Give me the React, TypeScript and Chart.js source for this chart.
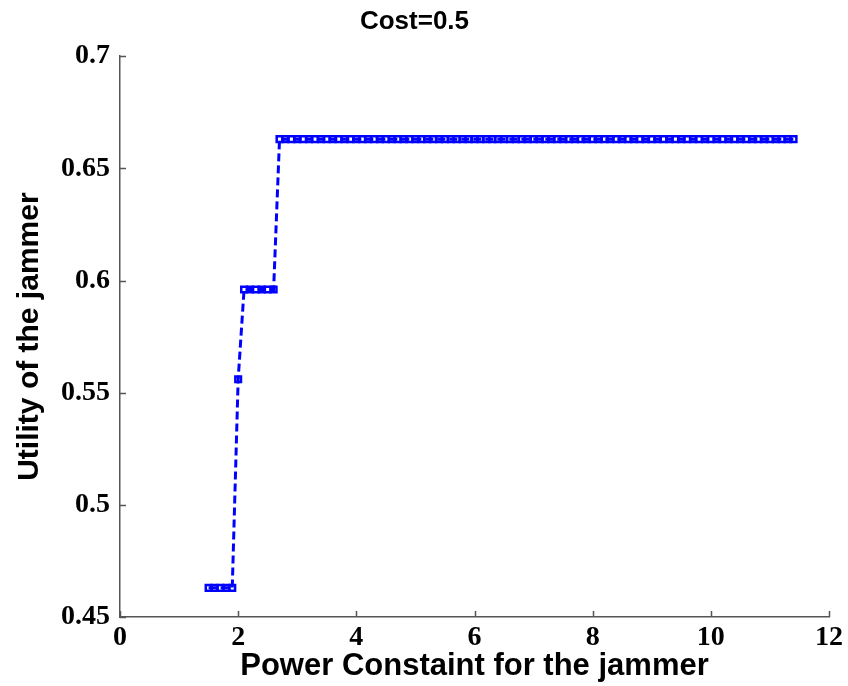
import React, { useEffect, useRef } from 'react';
import { Chart, registerables } from 'chart.js';

Chart.register(...registerables);

const titleText = 'Cost=0.5';
const xTitle = 'Power Constaint for the jammer';
const yTitle = 'Utility of the jammer';

const xValues = [
  1.5, 1.6, 1.7, 1.8, 1.9,
  2.0,
  2.1, 2.2, 2.3, 2.4, 2.5, 2.6,
  2.7, 2.8, 2.9, 3.0, 3.1, 3.2, 3.3, 3.4, 3.5, 3.6, 3.7, 3.8, 3.9,
  4.0, 4.1, 4.2, 4.3, 4.4, 4.5, 4.6, 4.7, 4.8, 4.9,
  5.0, 5.1, 5.2, 5.3, 5.4, 5.5, 5.6, 5.7, 5.8, 5.9,
  6.0, 6.1, 6.2, 6.3, 6.4, 6.5, 6.6, 6.7, 6.8, 6.9,
  7.0, 7.1, 7.2, 7.3, 7.4, 7.5, 7.6, 7.7, 7.8, 7.9,
  8.0, 8.1, 8.2, 8.3, 8.4, 8.5, 8.6, 8.7, 8.8, 8.9,
  9.0, 9.1, 9.2, 9.3, 9.4, 9.5, 9.6, 9.7, 9.8, 9.9,
  10.0, 10.1, 10.2, 10.3, 10.4, 10.5, 10.6, 10.7, 10.8, 10.9,
  11.0, 11.1, 11.2, 11.3, 11.4,
];

const yValues = [
  0.463, 0.463, 0.463, 0.463, 0.463,
  0.556,
  0.596, 0.596, 0.596, 0.596, 0.596, 0.596,
  0.663, 0.663, 0.663, 0.663, 0.663, 0.663, 0.663, 0.663, 0.663, 0.663, 0.663, 0.663, 0.663,
  0.663, 0.663, 0.663, 0.663, 0.663, 0.663, 0.663, 0.663, 0.663, 0.663,
  0.663, 0.663, 0.663, 0.663, 0.663, 0.663, 0.663, 0.663, 0.663, 0.663,
  0.663, 0.663, 0.663, 0.663, 0.663, 0.663, 0.663, 0.663, 0.663, 0.663,
  0.663, 0.663, 0.663, 0.663, 0.663, 0.663, 0.663, 0.663, 0.663, 0.663,
  0.663, 0.663, 0.663, 0.663, 0.663, 0.663, 0.663, 0.663, 0.663, 0.663,
  0.663, 0.663, 0.663, 0.663, 0.663, 0.663, 0.663, 0.663, 0.663, 0.663,
  0.663, 0.663, 0.663, 0.663, 0.663, 0.663, 0.663, 0.663, 0.663, 0.663,
  0.663, 0.663, 0.663, 0.663, 0.663,
];

const xTickValues = [0, 2, 4, 6, 8, 10, 12];
const xTickLabels = ['0', '2', '4', '6', '8', '10', '12'];
const yTickValues = [0.45, 0.5, 0.55, 0.6, 0.65, 0.7];
const yTickLabels = ['0.45', '0.5', '0.55', '0.6', '0.65', '0.7'];

const AXIS_COLOR = '#555555';
const LINE_COLOR = '#0000ff';

const innerTicks = {
  id: 'innerTicks',
  afterDraw(chart: any) {
    const { ctx, chartArea, scales } = chart;
    ctx.save();
    ctx.strokeStyle = AXIS_COLOR;
    ctx.lineWidth = 1.5;
    xTickValues.forEach((v) => {
      const px = Math.round(scales.x.getPixelForValue(v)) + 0.5;
      ctx.beginPath();
      ctx.moveTo(px, chartArea.bottom);
      ctx.lineTo(px, chartArea.bottom - 6);
      ctx.stroke();
    });
    yTickValues.forEach((v) => {
      const py = Math.round(scales.y.getPixelForValue(v)) + 0.5;
      ctx.beginPath();
      ctx.moveTo(chartArea.left, py);
      ctx.lineTo(chartArea.left + 6, py);
      ctx.stroke();
    });
    ctx.restore();
  },
};

export default function App() {
  const canvasRef = useRef<HTMLCanvasElement | null>(null);

  useEffect(() => {
    const canvas = canvasRef.current;
    if (!canvas) return;
    const data = xValues.map((x, i) => ({ x, y: yValues[i] }));
    const chart = new Chart(canvas, {
      type: 'line',
      data: {
        datasets: [
          {
            data,
            borderColor: LINE_COLOR,
            borderWidth: 3,
            borderDash: [8, 4],
            fill: false,
            tension: 0,
            pointStyle: 'rect',
            pointRadius: 4,
            pointBorderWidth: 2.5,
            pointBorderColor: LINE_COLOR,
            pointBackgroundColor: 'rgba(0,0,0,0)',
          },
        ],
      },
      options: {
        animation: false,
        responsive: false,
        maintainAspectRatio: false,
        layout: { padding: { left: 0, right: 19, top: 0, bottom: 0 } },
        plugins: {
          legend: { display: false },
          tooltip: { enabled: false },
          title: {
            display: true,
            text: titleText,
            color: '#000',
            font: { family: '"Liberation Sans", Arial, sans-serif', size: 26, weight: 'bold' },
            padding: { top: 6, bottom: 19 },
          },
        },
        scales: {
          x: {
            type: 'linear',
            min: 0,
            max: 12,
            afterBuildTicks: (s: any) => {
              s.ticks = xTickValues.map((v) => ({ value: v }));
            },
            afterFit: (s: any) => {
              s.height = 69;
            },
            ticks: {
              color: '#000',
              padding: 4,
              maxRotation: 0,
              autoSkip: false,
              font: { family: '"Liberation Serif", "Times New Roman", serif', size: 28, weight: 'bold' },
              callback: (_v: any, i: number) => xTickLabels[i],
            },
            grid: { display: true, drawOnChartArea: false, drawTicks: false, tickLength: 0 },
            border: { display: true, color: AXIS_COLOR, width: 1.5 },
            title: {
              display: true,
              text: xTitle,
              color: '#000',
              font: { family: '"Liberation Sans", Arial, sans-serif', size: 31, weight: 'bold' },
              padding: { top: 0, bottom: 1 },
            },
          },
          y: {
            type: 'linear',
            min: 0.45,
            max: 0.7,
            afterBuildTicks: (s: any) => {
              s.ticks = yTickValues.map((v) => ({ value: v }));
            },
            afterFit: (s: any) => {
              s.width = 120;
            },
            ticks: {
              color: '#000',
              padding: 10,
              autoSkip: false,
              font: { family: '"Liberation Serif", "Times New Roman", serif', size: 28, weight: 'bold' },
              callback: (_v: any, i: number) => yTickLabels[i],
            },
            grid: { display: true, drawOnChartArea: false, drawTicks: false, tickLength: 0 },
            border: { display: true, color: AXIS_COLOR, width: 1.5 },
            title: {
              display: true,
              text: yTitle,
              color: '#000',
              font: { family: '"Liberation Sans", Arial, sans-serif', size: 30, weight: 'bold' },
              padding: { top: 12, bottom: 0 },
            },
          },
        },
      },
      plugins: [innerTicks],
    });
    return () => chart.destroy();
  }, []);

  return (
    <div style={{ position: 'fixed', left: 0, top: 0, width: 848, height: 686, background: '#fff' }}>
      <canvas ref={canvasRef} width={848} height={686} style={{ width: 848, height: 686, display: 'block' }} />
    </div>
  );
}
